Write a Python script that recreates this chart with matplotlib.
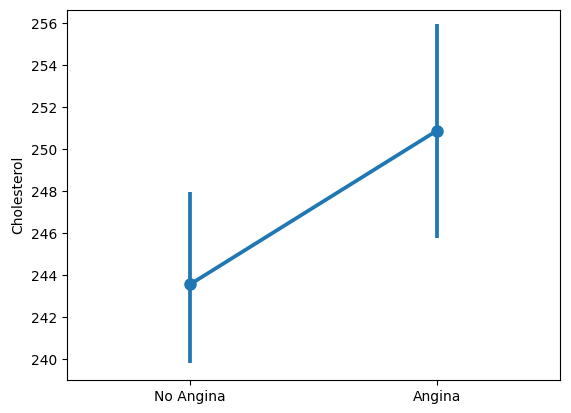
import matplotlib
matplotlib.use("Agg")
import matplotlib.pyplot as plt

categories = ["No Angina", "Angina"]
means = [243.56, 250.87]
ci_low = [239.80, 245.75]
ci_high = [247.97, 255.95]

fig = plt.figure(figsize=(5.71, 4.13), dpi=100)
ax = fig.add_axes([67/571, 33/413, 493/571, 370/413])
color = "#1f77b4"
x = list(range(len(categories)))
ax.vlines(x, ci_low, ci_high, color=color, linewidth=2.7)
ax.plot(x, means, color=color, linewidth=2.7, marker="o", markersize=8)
ax.set_xticks(x)
ax.set_xticklabels(categories)
ax.set_xlim(-0.5, 1.5)
ax.set_ylim(239.0, 256.62)
ax.set_yticks(range(240, 257, 2))
ax.set_ylabel("Cholesterol")
fig.savefig("out.png", dpi=100)
